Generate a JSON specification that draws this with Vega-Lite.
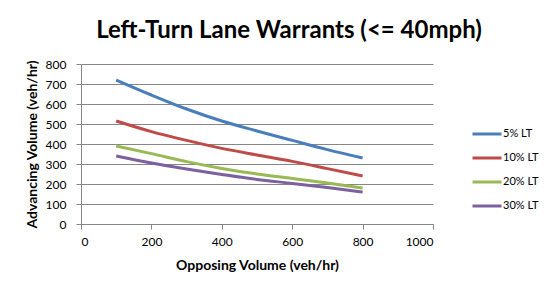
{
  "$schema": "https://vega.github.io/schema/vega-lite/v6.json",
  "width": 352,
  "height": 160,
  "autosize": {"type": "none"},
  "padding": {"left": 81, "top": 64, "right": 115, "bottom": 65},
  "background": "white",
  "title": {
    "text": "Left-Turn Lane Warrants (<= 40mph)",
    "font": "Lato",
    "fontSize": 24,
    "fontWeight": "bold",
    "color": "#000000",
    "anchor": "middle",
    "frame": "group",
    "dx": 32,
    "offset": 15
  },
  "data": {
    "values": [
      {"opp": 100, "adv": 720, "s": "5% LT"},
      {"opp": 200, "adv": 645, "s": "5% LT"},
      {"opp": 300, "adv": 575, "s": "5% LT"},
      {"opp": 400, "adv": 515, "s": "5% LT"},
      {"opp": 500, "adv": 465, "s": "5% LT"},
      {"opp": 600, "adv": 418, "s": "5% LT"},
      {"opp": 700, "adv": 372, "s": "5% LT"},
      {"opp": 800, "adv": 330, "s": "5% LT"},
      {"opp": 100, "adv": 515, "s": "10% LT"},
      {"opp": 200, "adv": 462, "s": "10% LT"},
      {"opp": 300, "adv": 418, "s": "10% LT"},
      {"opp": 400, "adv": 378, "s": "10% LT"},
      {"opp": 500, "adv": 345, "s": "10% LT"},
      {"opp": 600, "adv": 313, "s": "10% LT"},
      {"opp": 700, "adv": 277, "s": "10% LT"},
      {"opp": 800, "adv": 240, "s": "10% LT"},
      {"opp": 100, "adv": 390, "s": "20% LT"},
      {"opp": 200, "adv": 352, "s": "20% LT"},
      {"opp": 300, "adv": 312, "s": "20% LT"},
      {"opp": 400, "adv": 278, "s": "20% LT"},
      {"opp": 500, "adv": 250, "s": "20% LT"},
      {"opp": 600, "adv": 228, "s": "20% LT"},
      {"opp": 700, "adv": 205, "s": "20% LT"},
      {"opp": 800, "adv": 180, "s": "20% LT"},
      {"opp": 100, "adv": 340, "s": "30% LT"},
      {"opp": 200, "adv": 305, "s": "30% LT"},
      {"opp": 300, "adv": 275, "s": "30% LT"},
      {"opp": 400, "adv": 248, "s": "30% LT"},
      {"opp": 500, "adv": 223, "s": "30% LT"},
      {"opp": 600, "adv": 203, "s": "30% LT"},
      {"opp": 700, "adv": 182, "s": "30% LT"},
      {"opp": 800, "adv": 160, "s": "30% LT"}
    ]
  },
  "mark": {"type": "line", "strokeWidth": 3, "interpolate": "monotone"},
  "encoding": {
    "x": {
      "field": "opp",
      "type": "quantitative",
      "scale": {"domain": [0, 1000], "nice": false},
      "axis": {
        "title": "Opposing Volume (veh/hr)",
        "values": [0, 200, 400, 600, 800, 1000],
        "format": "d",
        "grid": false,
        "domainColor": "#868686",
        "tickColor": "#868686",
        "tickSize": 5,
        "labelFont": "Lato",
        "labelFontSize": 12,
        "labelColor": "#000000",
        "labelPadding": 7,
        "titleFont": "Lato",
        "titleFontSize": 14,
        "titleFontWeight": "bold",
        "titleColor": "#000000",
        "titlePadding": 11
      }
    },
    "y": {
      "field": "adv",
      "type": "quantitative",
      "scale": {"domain": [0, 800], "nice": false},
      "axis": {
        "title": "Advancing Volume (veh/hr)",
        "values": [0, 100, 200, 300, 400, 500, 600, 700, 800],
        "grid": true,
        "gridColor": "#868686",
        "gridWidth": 1,
        "domainColor": "#868686",
        "tickColor": "#868686",
        "tickSize": 5,
        "labelFont": "Lato",
        "labelFontSize": 12,
        "labelColor": "#000000",
        "labelPadding": 10,
        "titleFont": "Lato",
        "titleFontSize": 14,
        "titleFontWeight": "bold",
        "titleColor": "#000000",
        "titlePadding": 6
      }
    },
    "color": {
      "field": "s",
      "type": "nominal",
      "sort": ["5% LT", "10% LT", "20% LT", "30% LT"],
      "scale": {
        "domain": ["5% LT", "10% LT", "20% LT", "30% LT"],
        "range": ["#4A7EBB", "#BE4B48", "#98B954", "#7D60A0"]
      },
      "legend": {
        "title": null,
        "orient": "none",
        "legendX": 390,
        "legendY": 54,
        "symbolType": "stroke",
        "symbolStrokeWidth": 3,
        "symbolSize": 841,
        "labelFont": "Lato",
        "labelFontSize": 11,
        "labelColor": "#000000",
        "labelOffset": 0,
        "rowPadding": 2
      }
    }
  },
  "config": {
    "view": {"stroke": null}
  }
}
